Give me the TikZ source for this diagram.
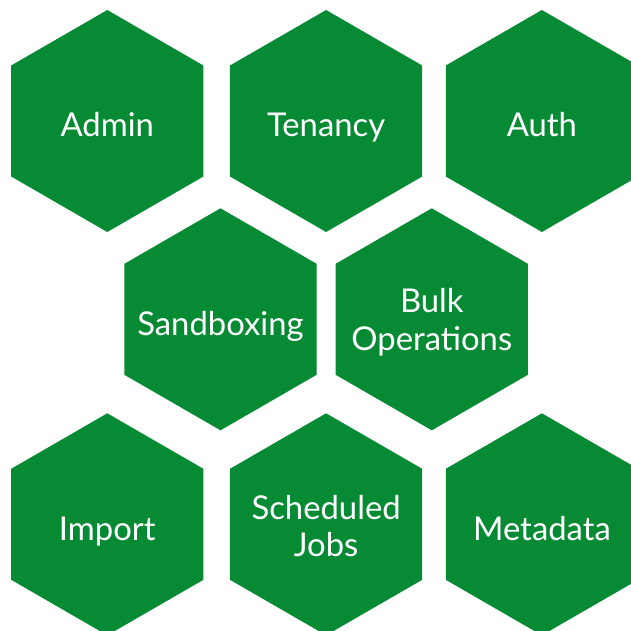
\documentclass[tikz,border=0pt]{standalone}
\usepackage{fontspec}
\setmainfont{Lato}
\usetikzlibrary{shapes.geometric}
\definecolor{hexgreen}{RGB}{6,139,52}

\begin{document}
\begin{tikzpicture}[x=0.03cm,y=-0.03cm,
  hexcell/.style={regular polygon,regular polygon sides=6,shape border rotate=30,
    minimum size=6.66cm,inner sep=0pt,fill=hexgreen},
  hextext/.style={anchor=base,inner sep=0pt,text=white,align=center,
    font=\fontsize{28}{32}\selectfont}]
  \useasboundingbox (0,0) rectangle (631,631);
  \clip (0,0) rectangle (631,631);

  % top row
  \node[hexcell] (admin) at (107.3,121) {};
  \node[hexcell] (tenancy) at (326.1,121) {};
  \node[hexcell] (auth) at (541.9,121) {};
  \node[hextext] (admin-t) at (107.3,136.7) {Admin};
  \node[hextext] (tenancy-t) at (326.1,136.7) {Tenancy};
  \node[hextext] (auth-t) at (541.9,136.7) {Auth};

  % middle row
  \node[hexcell] (sandbox) at (220.5,319.3) {};
  \node[hexcell] (bulk) at (431.8,319.3) {};
  \node[hextext] (sandbox-t) at (220.5,335) {Sandboxing};
  \node[hextext] (bulk-t) at (431.8,350) {Bulk\\Operations};

  % bottom row
  \node[hexcell] (import) at (107.3,524.3) {};
  \node[hexcell] (jobs) at (326.1,524.3) {};
  \node[hexcell] (meta) at (541.9,524.3) {};
  \node[hextext] (import-t) at (107.3,540) {Import};
  \node[hextext] (jobs-t) at (326.1,556.7) {Scheduled\\Jobs};
  \node[hextext] (meta-t) at (541.9,540) {Metadata};
\end{tikzpicture}
\end{document}
